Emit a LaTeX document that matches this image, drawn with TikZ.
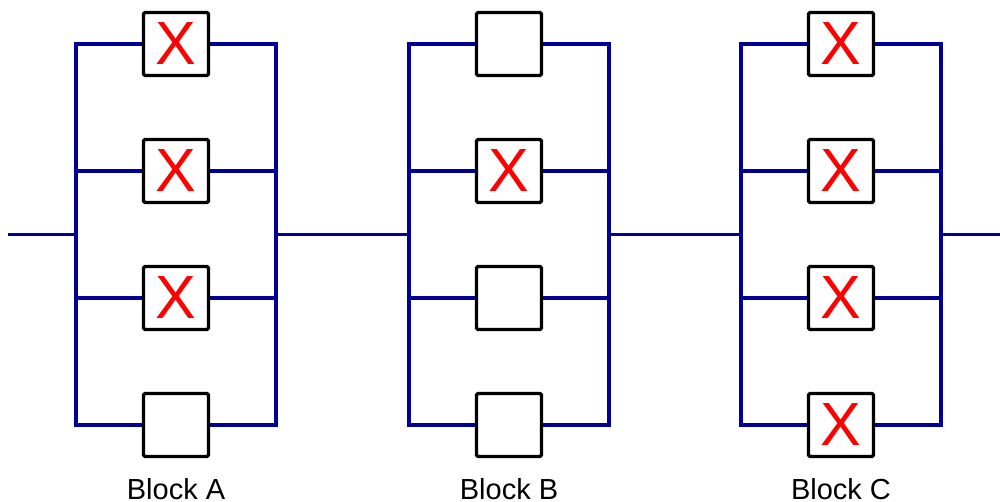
\documentclass[tikz,border=0pt]{standalone}
\usepackage{fontspec}
\setmainfont{Liberation Sans}
\usetikzlibrary{backgrounds}
\definecolor{wire}{RGB}{0,0,150}
\definecolor{fail}{RGB}{255,0,0}
\begin{document}
\begin{tikzpicture}[x=1pt,y=-1pt,
  unit/.style={draw=black,line width=3.3pt,fill=white,rounded corners=1.5pt,
    minimum width=65pt,minimum height=63pt,inner sep=0pt,outer sep=0pt},
  failmark/.style={text=fail,font=\fontsize{61}{61}\selectfont},
  wireline/.style={draw=wire,line width=3.3pt,line cap=rect,line join=miter},
  blocklabel/.style={anchor=base,font=\fontsize{29}{29}\selectfont,inner sep=0pt}]
\useasboundingbox (0,0) rectangle (1000,502);
% units of each block: rows at y = 44, 171, 298, 425
% Block A
\node[unit,failmark] (a1) at (176,44) {X};
\node[unit,failmark] (a2) at (176,171) {X};
\node[unit,failmark] (a3) at (176,298) {X};
\node[unit] (a4) at (176,425) {};
% Block B
\node[unit] (b1) at (509,44) {};
\node[unit,failmark] (b2) at (509,171) {X};
\node[unit] (b3) at (509,298) {};
\node[unit] (b4) at (509,425) {};
% Block C
\node[unit,failmark] (c1) at (841,44) {X};
\node[unit,failmark] (c2) at (841,171) {X};
\node[unit,failmark] (c3) at (841,298) {X};
\node[unit,failmark] (c4) at (841,425) {X};
% labels
\node[blocklabel] (la) at (176,499) {Block A};
\node[blocklabel] (lb) at (509,499) {Block B};
\node[blocklabel] (lc) at (841,499) {Block C};
% rail coordinates
\foreach \b/\cx in {a/176,b/509,c/841}{
  \foreach \i/\y in {1/44,2/171,3/298,4/425}{
    \coordinate (\b L\i) at (\cx-100,\y);
    \coordinate (\b R\i) at (\cx+100,\y);
  }
  \coordinate (\b Lm) at (\cx-100,234.5);
  \coordinate (\b Rm) at (\cx+100,234.5);
}
\coordinate (in) at (8,234.5);
\coordinate (out) at (1000,234.5);
\begin{scope}[on background layer]
  \foreach \b in {a,b,c}{
    \draw[wireline] (\b L1) -- (\b L4);
    \draw[wireline] (\b R1) -- (\b R4);
    \foreach \i in {1,2,3,4}{
      \draw[wireline] (\b L\i) -- (\b\i.west);
      \draw[wireline] (\b\i.east) -- (\b R\i);
    }
  }
  \draw[wireline,line cap=butt] (in) -- (aLm);
  \draw[wireline] (aRm) -- (bLm);
  \draw[wireline] (bRm) -- (cLm);
  \draw[wireline,line cap=butt] (cRm) -- (out);
\end{scope}
\end{tikzpicture}
\end{document}
